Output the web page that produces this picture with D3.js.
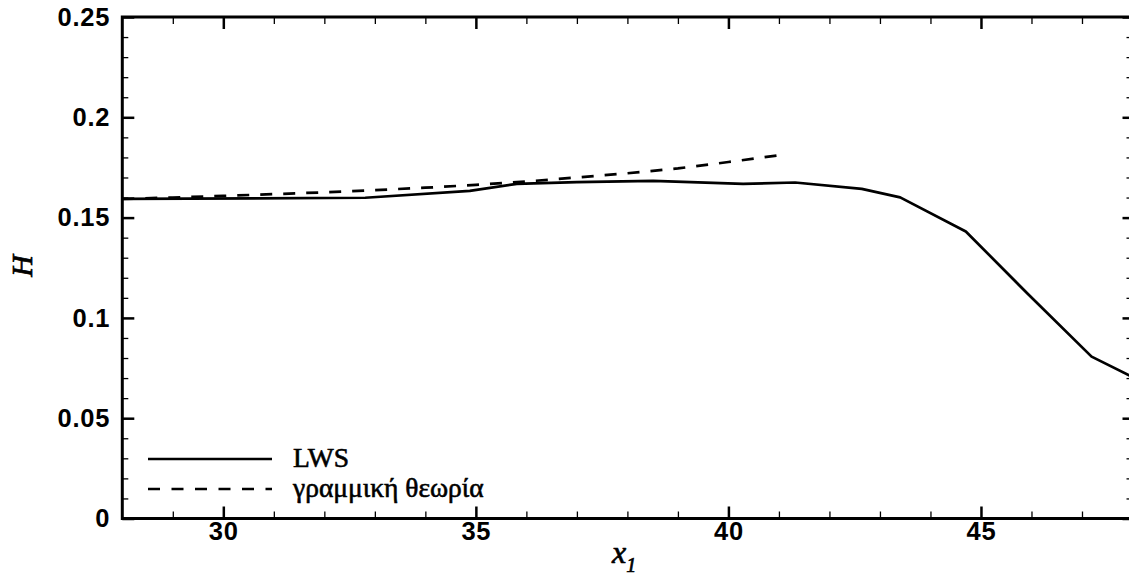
<!DOCTYPE html>
<html>
<head>
<meta charset="utf-8">
<script src="https://cdn.jsdelivr.net/npm/d3@7"></script>
<style>
  html, body { margin: 0; padding: 0; background: #fff; }
  svg { display: block; }
</style>
</head>
<body>
<svg id="chart" width="1129" height="578"></svg>
<script>
// ---- data ----
const lwsX = [28, 32.81, 34.88, 35.81, 37.0, 38.51, 40.29, 41.32, 42.64, 43.40, 44.70, 45.93, 47.19, 48];
const lwsH = [0.1593, 0.1599, 0.1633, 0.1668, 0.1677, 0.1683, 0.1668, 0.1675, 0.1643, 0.1601, 0.1431, 0.1119, 0.0807, 0.0705];

const linX = [28, 29, 30, 31, 32, 33, 34, 35, 36, 37, 38, 39, 40, 41, 41.1];
const linH = [0.1593, 0.1600, 0.1608, 0.1617, 0.1626, 0.1637, 0.1649, 0.1663, 0.1680, 0.1700, 0.1721, 0.1745, 0.1777, 0.1811, 0.1815];

const xMajor = [30, 35, 40, 45];
const xMinor = [29, 31, 32, 33, 34, 36, 37, 38, 39, 41, 42, 43, 44, 46, 47];
const yMajor = [0, 0.05, 0.1, 0.15, 0.2, 0.25];
const yMinor = [0.01,0.02,0.03,0.04,0.06,0.07,0.08,0.09,0.11,0.12,0.13,0.14,0.16,0.17,0.18,0.19,0.21,0.22,0.23,0.24];
const yLabels = ["0", "0.05", "0.1", "0.15", "0.2", "0.25"];
const legendLabels = ["LWS", "γραμμική θεωρία"];

// ---- layout ----
const svg = d3.select("#chart");
const L = 122.3, R = 1132.5, T = 17, B = 518.5;
const x = d3.scaleLinear().domain([28, 48]).range([L, R]);
const y = d3.scaleLinear().domain([0, 0.25]).range([B, T]);

const tickFont = "'Liberation Sans', Arial, sans-serif";
const serif = "'Liberation Serif', 'Times New Roman', serif";

function styleAxis(g, w) {
  g.select(".domain").remove();
  g.selectAll(".tick line").attr("stroke", "#000").attr("stroke-width", w);
  g.selectAll("text").attr("font-family", tickFont).attr("font-size", 25.5)
    .attr("font-weight", "bold").attr("letter-spacing", 0.8).attr("fill", "#000");
}

// minor ticks
svg.append("g").attr("transform", `translate(0,${B})`)
  .call(d3.axisBottom(x).tickValues(xMinor).tickFormat("").tickSize(-7))
  .call(g => styleAxis(g, 1.3));
svg.append("g").attr("transform", `translate(0,${T})`)
  .call(d3.axisTop(x).tickValues(xMinor).tickFormat("").tickSize(-7))
  .call(g => styleAxis(g, 1.3));
svg.append("g").attr("transform", `translate(${L},0)`)
  .call(d3.axisLeft(y).tickValues(yMinor).tickFormat("").tickSize(-6))
  .call(g => styleAxis(g, 1.3));
svg.append("g").attr("transform", `translate(${R},0)`)
  .call(d3.axisRight(y).tickValues(yMinor).tickFormat("").tickSize(-6))
  .call(g => styleAxis(g, 1.3));

// major ticks
svg.append("g").attr("transform", `translate(0,${B})`)
  .call(d3.axisBottom(x).tickValues(xMajor).tickFormat(d3.format("d")).tickSize(-12).tickPadding(3))
  .call(g => styleAxis(g, 2.5));
svg.append("g").attr("transform", `translate(0,${T})`)
  .call(d3.axisTop(x).tickValues(xMajor).tickFormat("").tickSize(-12))
  .call(g => styleAxis(g, 2.5));
svg.append("g").attr("transform", `translate(${L},0)`)
  .call(d3.axisLeft(y).tickValues(yMajor).tickFormat((d, i) => yLabels[i]).tickSize(-12).tickPadding(12))
  .call(g => styleAxis(g, 2.5));
svg.append("g").attr("transform", `translate(${R},0)`)
  .call(d3.axisRight(y).tickValues(yMajor).tickFormat("").tickSize(-10))
  .call(g => styleAxis(g, 2.5));

// frame
svg.append("rect").attr("x", L).attr("y", T).attr("width", R - L).attr("height", B - T)
  .attr("fill", "none").attr("stroke", "#000").attr("stroke-width", 3);

// lines
svg.append("clipPath").attr("id", "clip")
  .append("rect").attr("x", L).attr("y", T).attr("width", R - L).attr("height", B - T);

const line = d3.line().x(d => x(d[0])).y(d => y(d[1]));

svg.append("path").datum(lwsX.map((v, i) => [v, lwsH[i]]))
  .attr("d", line).attr("fill", "none").attr("stroke", "#000").attr("stroke-width", 2.7)
  .attr("stroke-linejoin", "round").attr("clip-path", "url(#clip)");

svg.append("path").datum(linX.map((v, i) => [v, linH[i]]))
  .attr("d", line).attr("fill", "none").attr("stroke", "#000").attr("stroke-width", 2.7)
  .attr("stroke-dasharray", "12,11").attr("clip-path", "url(#clip)");

// legend
const leg = svg.append("g");
[0, 1].forEach(i => {
  const yy = 459 + i * 30;
  leg.append("line").attr("x1", 148).attr("x2", 272).attr("y1", yy).attr("y2", yy)
    .attr("stroke", "#000").attr("stroke-width", 2.7)
    .attr("stroke-dasharray", i === 1 ? "12,11.5" : null);
  leg.append("text").attr("x", 293).attr("y", yy + 8)
    .attr("font-family", serif)
    .attr("font-size", 27.5).attr("fill", "#000")
    .attr("stroke", "#000").attr("stroke-width", 0.6)
    .text(legendLabels[i]);
});

// axis titles
svg.append("text")
  .attr("transform", "translate(32,266) rotate(-90)")
  .attr("text-anchor", "middle")
  .attr("font-family", serif)
  .attr("font-style", "italic").attr("font-size", 30).attr("fill", "#000")
  .attr("stroke", "#000").attr("stroke-width", 0.7)
  .text("H");

const xt = svg.append("text")
  .attr("x", 612).attr("y", 563)
  .attr("font-family", serif)
  .attr("font-style", "italic").attr("font-size", 32).attr("fill", "#000")
  .attr("stroke", "#000").attr("stroke-width", 0.7);
xt.append("tspan").text("x");
xt.append("tspan").attr("font-size", 20).attr("dy", 9).text("1");
</script>
</body>
</html>
